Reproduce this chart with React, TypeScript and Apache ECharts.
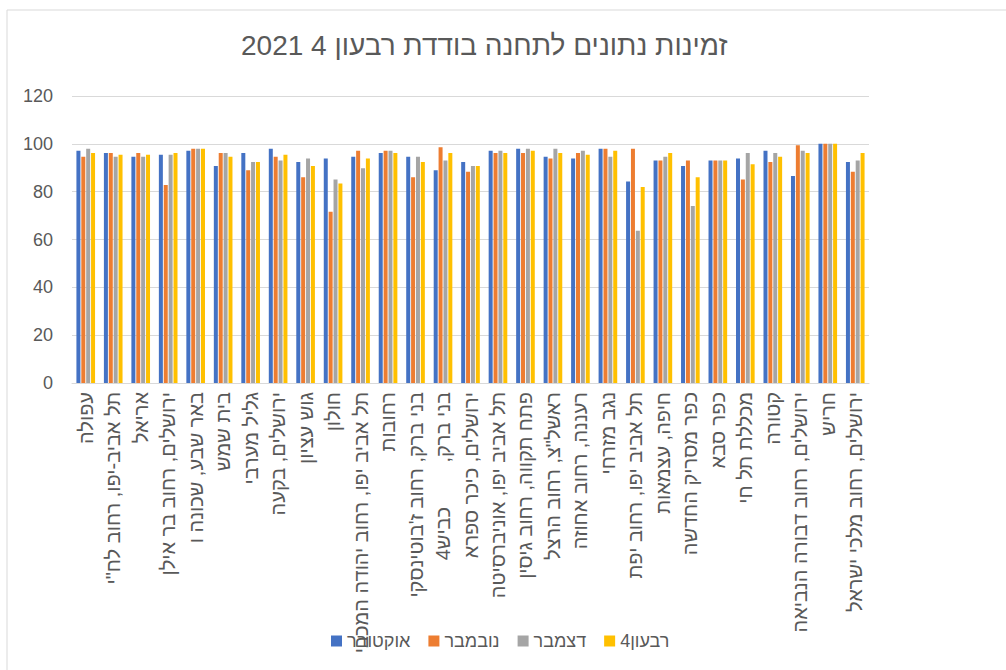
import React, { useEffect, useRef } from "react";
import * as echarts from "echarts";

const NB = "\u00A0";

const categories: string[] = [
  "עפולה",
  "תל אביב-יפו, רחוב לח\"י",
  "אריאל",
  "ירושלים, רחוב בר אילן",
  "באר שבע, שכונה ו",
  "בית שמש",
  "גליל מערבי",
  "ירושלים, בקעה",
  "גוש עציון",
  "חולון",
  "תל אביב יפו, רחוב יהודה המכבי",
  "רחובות",
  "בני ברק, רחוב ז'בוטינסקי",
  "בני ברק," + NB.repeat(8) + "כביש4",
  "ירושלים, כיכר ספרא",
  "תל אביב יפו, אוניברסיטה",
  "פתח תקווה, רחוב גיסין",
  "ראשל\"צ, רחוב הרצל",
  "רעננה, רחוב אחוזה",
  "נגב מזרחי",
  "תל אביב יפו, רחוב יפת",
  "חיפה, עצמאות",
  "כפר מסריק החדשה",
  "כפר סבא",
  "מכללת תל חי",
  "קטורה",
  "ירושלים, רחוב דבורה הנביאה",
  "חריש",
  "ירושלים, רחוב מלכי ישראל",
];

const october: number[] = [97.1, 96.2, 94.6, 95.4, 97.1, 90.7, 96.2, 97.9, 92.4, 93.9, 94.6, 96.2, 94.6, 89.0, 92.4, 97.1, 97.9, 94.6, 93.9, 97.9, 84.3, 93.0, 90.7, 93.0, 93.9, 97.1, 86.6, 100, 92.4];
const november: number[] = [94.6, 96.2, 96.2, 82.8, 97.9, 96.2, 89.0, 94.6, 86.0, 71.6, 97.1, 97.1, 86.0, 98.6, 88.3, 96.2, 96.2, 93.9, 96.2, 97.9, 97.9, 93.0, 93.0, 93.0, 85.1, 92.4, 99.4, 100, 88.3];
const december: number[] = [97.9, 94.6, 94.6, 95.4, 97.9, 96.2, 92.4, 93.0, 93.9, 85.1, 89.8, 97.1, 94.6, 93.0, 90.7, 97.1, 97.9, 97.9, 97.1, 94.6, 63.7, 94.6, 74.0, 93.0, 96.2, 96.2, 97.1, 100, 93.0];
const quarter4: number[] = [96.2, 95.4, 95.4, 96.2, 97.9, 94.6, 92.4, 95.4, 90.7, 83.4, 93.9, 96.2, 92.4, 96.2, 90.7, 96.2, 97.1, 96.2, 95.4, 97.1, 81.9, 96.2, 86.0, 93.0, 91.5, 94.6, 96.2, 100, 96.2];

const seriesNames: string[] = ["אוקטובר", "נובמבר", "דצמבר", "רבעון4"];
const seriesColors: string[] = ["#4472C4", "#ED7D31", "#A5A5A5", "#FFC000"];
const titleText = "זמינות נתונים לתחנה בודדת רבעון 4 2021";

const FONT = "'Liberation Sans', Arial, sans-serif";
const TEXT_COLOR = "#595959";

export default function App() {
  const ref = useRef<HTMLDivElement>(null);

  useEffect(() => {
    if (!ref.current) return;
    const chart = echarts.init(ref.current, undefined, { renderer: "svg" });
    const values = [october, november, december, quarter4];
    chart.setOption({
      animation: false,
      backgroundColor: "#ffffff",
      textStyle: { fontFamily: FONT },
      title: {
        text: titleText,
        left: 236,
        top: 26,
        textStyle: { fontSize: 28, fontWeight: "normal", color: TEXT_COLOR, fontFamily: FONT },
      },
      graphic: [
        {
          type: "rect",
          shape: { x: 7, y: 10, width: 1100, height: 700 },
          style: { fill: "none", stroke: "#d9d9d9", lineWidth: 1 },
          silent: true,
        },
      ],
      legend: {
        left: 331,
        top: 632,
        padding: 0,
        icon: "rect",
        itemWidth: 11,
        itemHeight: 11,
        itemGap: 18,
        textStyle: { fontSize: 18, color: TEXT_COLOR, fontFamily: FONT },
        data: seriesNames,
      },
      grid: { left: 72, right: 137, top: 96, bottom: 287, containLabel: false },
      xAxis: {
        type: "category",
        data: categories,
        axisLine: { show: true, lineStyle: { color: "#d9d9d9", width: 1 } },
        axisTick: { show: false },
        axisLabel: {
          interval: 0,
          rotate: 90,
          margin: 9,
          fontSize: 20,
          color: TEXT_COLOR,
          fontFamily: FONT,
        },
      },
      yAxis: {
        type: "value",
        min: 0,
        max: 120,
        interval: 20,
        axisLine: { show: false },
        axisTick: { show: false },
        splitLine: { lineStyle: { color: "#d9d9d9", width: 1 } },
        axisLabel: { fontSize: 18, color: TEXT_COLOR, margin: 19, fontFamily: FONT },
      },
      series: seriesNames.map((name, i) => ({
        name,
        type: "bar",
        data: values[i],
        barWidth: 4,
        barGap: "22%",
        itemStyle: { color: seriesColors[i] },
      })),
    });
    return () => chart.dispose();
  }, []);

  return (
    <div
      ref={ref}
      style={{ position: "fixed", left: 0, top: 0, width: 1006, height: 670 }}
    />
  );
}
